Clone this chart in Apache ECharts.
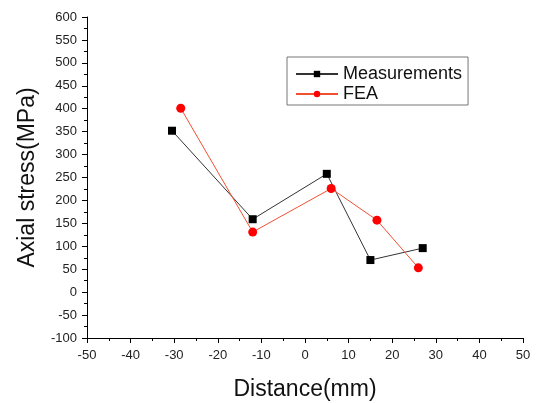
<!doctype html>
<html lang="en">
<head>
    <meta charset="UTF-8">
    <title>Axial stress</title>
    <style>
        *{margin: 0; padding: 0}
        body{background: #fff}
    </style>
</head>
<body>
<div id="block" style="width:542px;height:403px"></div>

<script src="https://cdn.jsdelivr.net/npm/echarts@6/dist/echarts.min.js"></script>
<script>
    // data
    const measX = [-30.5, -12, 5, 15, 27];
    const measY = [352, 159, 258, 70, 96];
    const feaX = [-28.5, -12, 6, 16.5, 26];
    const feaY = [401, 131, 226, 157, 53];

    const zip = (xs, ys) => xs.map((x, i) => [x, ys[i]]);

    const font = 'Liberation Sans, Arial, sans-serif';
    const chart = echarts.init(document.getElementById('block'));

    const axisCommon = {
        axisLine: {show: true, onZero: false, lineStyle: {color: '#000', width: 1}},
        axisTick: {show: true, inside: false, length: 5, lineStyle: {color: '#000'}},
        minorTick: {show: true, splitNumber: 2, length: 3, lineStyle: {color: '#000'}},
        splitLine: {show: false},
        nameLocation: 'middle',
        nameTextStyle: {color: '#111', fontFamily: font, fontSize: 23}
    };

    chart.setOption({
        animation: false,
        grid: {left: 87, right: 19, top: 17, bottom: 65, containLabel: false, outerBoundsMode: 'none'},
        xAxis: Object.assign({}, axisCommon, {
            type: 'value', min: -50, max: 50, interval: 10,
            axisLabel: {color: '#222', fontFamily: font, fontSize: 13, margin: 11},
            name: 'Distance(mm)', nameGap: 40
        }),
        yAxis: Object.assign({}, axisCommon, {
            type: 'value', min: -100, max: 600, interval: 50,
            axisLabel: {color: '#222', fontFamily: font, fontSize: 13, margin: 10},
            name: 'Axial stress(MPa)', nameGap: 48
        }),
        legend: {
            left: 287, top: 57,
            orient: 'vertical',
            itemWidth: 42, itemHeight: 8, itemGap: 2,
            padding: [8, 6, 2, 8],
            borderColor: '#777', borderWidth: 1,
            textStyle: {fontFamily: font, fontSize: 18, color: '#111'},
            data: ['Measurements', 'FEA']
        },
        series: [{
            name: 'Measurements',
            type: 'line',
            data: zip(measX, measY),
            symbol: 'rect', symbolSize: 8,
            itemStyle: {color: '#000'},
            lineStyle: {color: '#333', width: 1}
        }, {
            name: 'FEA',
            type: 'line',
            data: zip(feaX, feaY),
            symbol: 'circle', symbolSize: 9,
            itemStyle: {color: '#f00'},
            lineStyle: {color: '#f05030', width: 1}
        }]
    });
</script>
</body>
</html>
